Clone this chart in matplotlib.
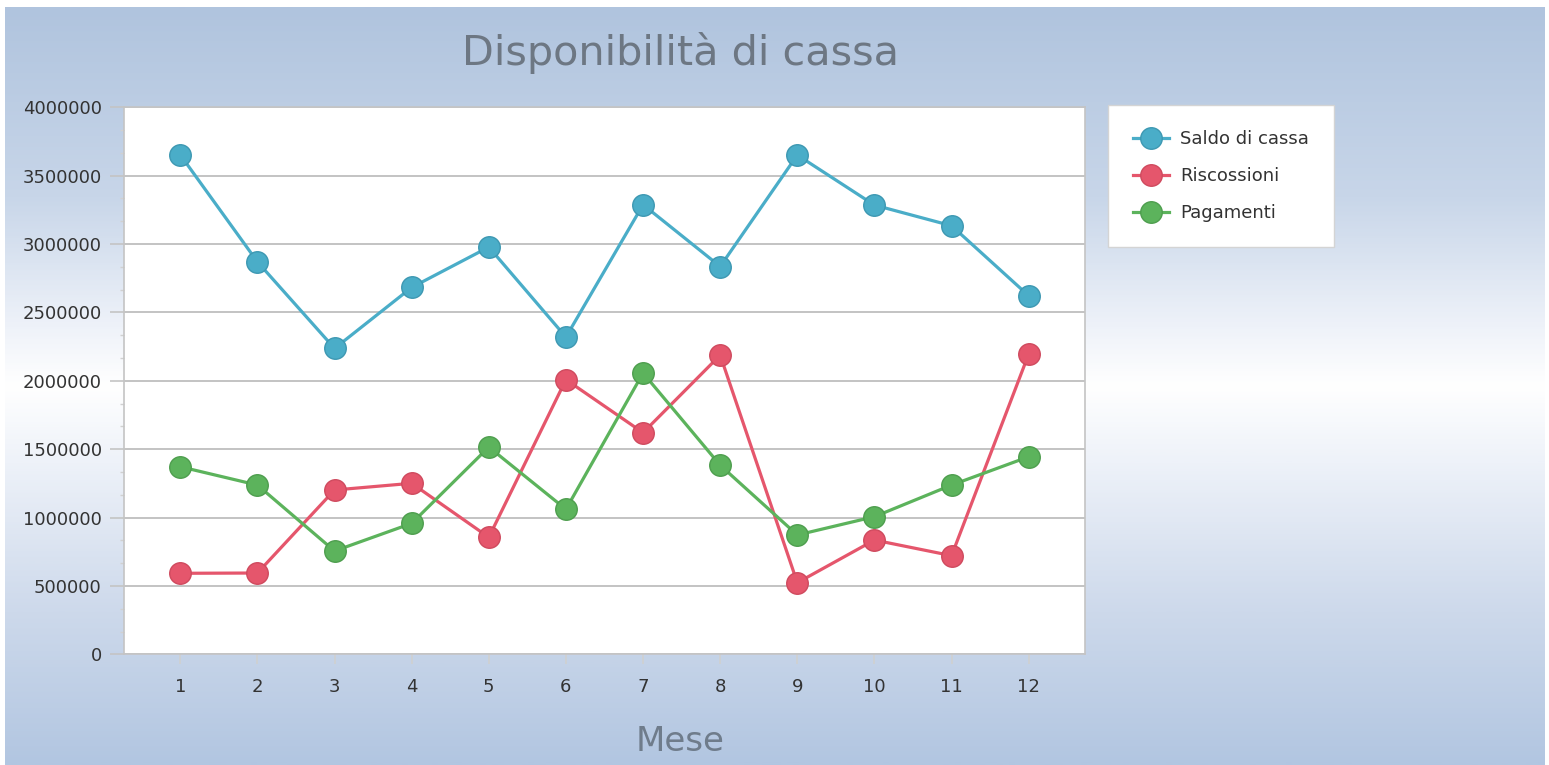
import numpy as np
import matplotlib
matplotlib.use("Agg")
import matplotlib.pyplot as plt
from matplotlib.ticker import AutoMinorLocator
from matplotlib.colors import LinearSegmentedColormap

# ---- data ----
mesi = [1, 2, 3, 4, 5, 6, 7, 8, 9, 10, 11, 12]
saldo_di_cassa = [3652000, 2870000, 2237000, 2683000, 2978000, 2320000,
                  3288000, 2836000, 3651000, 3285000, 3134000, 2622000]
riscossioni = [593000, 595000, 1202000, 1251000, 856000, 2009000,
               1621000, 2188000, 524000, 836000, 722000, 2196000]
pagamenti = [1372000, 1238000, 756000, 958000, 1516000, 1061000,
             2057000, 1383000, 873000, 1007000, 1238000, 1445000]
serie_nomi = ["Saldo di cassa", "Riscossioni", "Pagamenti"]
y_ticks = [0, 500000, 1000000, 1500000, 2000000, 2500000, 3000000, 3500000, 4000000]
titolo = "Disponibilità di cassa"
x_label = "Mese"

colori = ["#4aadc8", "#e5566c", "#5cb35c"]
bordi = ["#3d98b2", "#cf4a5e", "#4e9e4e"]

W, H = 1549, 765
fig = plt.figure(figsize=(W / 100, H / 100), dpi=100, facecolor="white")

# background gradient
bg = fig.add_axes([5 / W, 0, 1540 / W, 758 / H], zorder=0)
bg.axis("off")
cmap = LinearSegmentedColormap.from_list(
    "bg",
    [(0.0, (176/255, 196/255, 222/255)),
     (0.25, (200/255, 214/255, 233/255)),
     (0.42, (238/255, 242/255, 249/255)),
     (0.50, (1, 1, 1)),
     (0.60, (238/255, 242/255, 249/255)),
     (0.80, (205/255, 217/255, 235/255)),
     (1.0, (178/255, 198/255, 225/255))])
grad = np.linspace(0, 1, 400).reshape(-1, 1)
bg.imshow(grad, aspect="auto", cmap=cmap, extent=[0, 1, 0, 1], origin="upper")

# main axes
left, right = 124, 1085
top, bottom = 107.3, 654.4
ax = fig.add_axes([left / W, 1 - bottom / H, (right - left) / W, (bottom - top) / H], zorder=2)
ax.set_facecolor("white")

for vals, nome, c, e in zip([saldo_di_cassa, riscossioni, pagamenti], serie_nomi, colori, bordi):
    ax.plot(mesi, vals, color=c, lw=2.3, marker="o", markersize=15.5,
            markerfacecolor=c, markeredgecolor=e, markeredgewidth=1.0,
            label=nome, zorder=3)

ax.set_xlim(0.27, 12.73)
ax.set_ylim(0, 4000000)
ax.set_xticks(mesi)
ax.set_yticks(y_ticks)
ax.set_yticklabels([str(v) for v in y_ticks])
ax.yaxis.set_minor_locator(AutoMinorLocator(3))
ax.grid(axis="y", which="major", color="#b9b9b9", lw=1.2, zorder=1)
ax.set_axisbelow(True)

for s in ax.spines.values():
    s.set_color("#c4c4c4")
    s.set_linewidth(1.2)

ax.tick_params(axis="y", which="major", length=10, width=1.2, color="#c4c4c4",
               pad=6, labelsize=13, labelcolor="#333333")
ax.tick_params(axis="y", which="minor", length=3, width=1, color="#d0d0d0")
ax.tick_params(axis="x", which="major", length=7, width=1.2, color="#d0d0d0",
               pad=10, labelsize=13, labelcolor="#333333")

for lab in ax.get_xticklabels() + ax.get_yticklabels():
    lab.set_family("DejaVu Sans")

# title and x-label
fig.text(680 / W, 1 - 65 / H, titolo, ha="center", va="baseline",
         fontsize=29.8, color="#6d7783", family="DejaVu Sans")
fig.text(680 / W, 1 - 751 / H, x_label, ha="center", va="baseline",
         fontsize=24.5, color="#6f7c8b", family="DejaVu Sans")

# legend
handles, labels = ax.get_legend_handles_labels()
leg = fig.legend(handles, labels, loc="upper left",
                 bbox_to_anchor=(1108 / W, 1 - 105 / H), bbox_transform=fig.transFigure,
                 frameon=True, fancybox=False, edgecolor="#d4d4d4", facecolor="white",
                 framealpha=1, fontsize=13, handlelength=2.0, handletextpad=0.6,
                 labelspacing=1.05, borderpad=1.4, borderaxespad=0, numpoints=1)
leg.get_frame().set_linewidth(1.0)
for t in leg.get_texts():
    t.set_color("#333333")

fig.savefig("out.png", dpi=100, facecolor=fig.get_facecolor())
